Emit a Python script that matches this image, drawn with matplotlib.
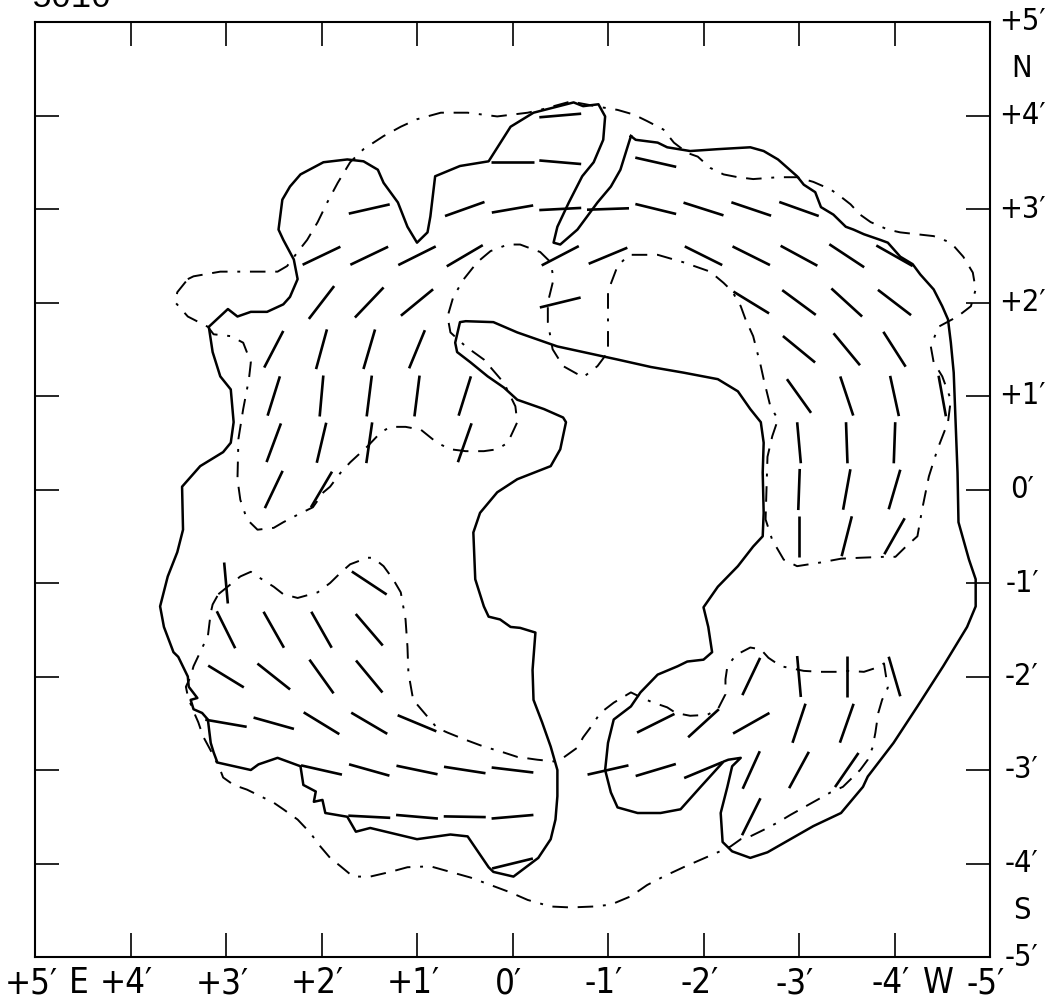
import numpy as np
import matplotlib.pyplot as plt
from matplotlib.collections import LineCollection
from matplotlib.transforms import offset_copy


# offsets in arcmin from the map centre, east positive (plotted to the left)

# polarization vectors: position, position angle (deg, N through E)
vec_ra = [
    -0.5,
    0.0, -0.5, -1.5,
    1.5, 0.5, 0.0, -0.5, -1.0, -1.5, -2.0, -2.5, -3.0,
    2.0, 1.5, 1.0, 0.5, -0.5, -1.0, -2.0, -2.5, -3.0, -3.5, -4.0,
    2.0, 1.5, 1.0, -0.5, -2.5, -3.0, -3.5, -4.0,
    2.5, 2.0, 1.5, 1.0, -3.0, -3.5, -4.0,
    2.5, 2.0, 1.5, 1.0, 0.5, -3.0, -3.5, -4.0, -4.5,
    2.5, 2.0, 1.5, 0.5, -3.0, -3.5, -4.0,
    2.5, 2.0, -3.0, -3.5, -4.0,
    -3.0, -3.5, -4.0,
    3.0, 1.5,
    3.0, 2.5, 2.0, 1.5,
    3.0, 2.5, 2.0, 1.5, -2.5, -3.0, -3.5, -4.0,
    3.0, 2.5, 2.0, 1.5, 1.0, -1.5, -2.0, -2.5, -3.0, -3.5,
    2.0, 1.5, 1.0, 0.5, 0.0, -1.0, -1.5, -2.0, -2.5, -3.0, -3.5,
    1.5, 1.0, 0.5, 0.0, -2.5,
    0.0,
]
vec_dec = [
    4.0,
    3.5, 3.5, 3.5,
    3.0, 3.0, 3.0, 3.0, 3.0, 3.0, 3.0, 3.0, 3.0,
    2.5, 2.5, 2.5, 2.5, 2.5, 2.5, 2.5, 2.5, 2.5, 2.5, 2.5,
    2.0, 2.0, 2.0, 2.0, 2.0, 2.0, 2.0, 2.0,
    1.5, 1.5, 1.5, 1.5, 1.5, 1.5, 1.5,
    1.0, 1.0, 1.0, 1.0, 1.0, 1.0, 1.0, 1.0, 1.0,
    0.5, 0.5, 0.5, 0.5, 0.5, 0.5, 0.5,
    0.0, 0.0, 0.0, 0.0, 0.0,
    -0.5, -0.5, -0.5,
    -1.0, -1.0,
    -1.5, -1.5, -1.5, -1.5,
    -2.0, -2.0, -2.0, -2.0, -2.0, -2.0, -2.0, -2.0,
    -2.5, -2.5, -2.5, -2.5, -2.5, -2.5, -2.5, -2.5, -2.5, -2.5,
    -3.0, -3.0, -3.0, -3.0, -3.0, -3.0, -3.0, -3.0, -3.0, -3.0, -3.0,
    -3.5, -3.5, -3.5, -3.5, -3.5,
    -4.0,
]
vec_pa = [
    95,
    90, 85, 77,
    103, 110, 100, 93, 92, 76, 72, 71, 70,
    116, 116, 117, 121, 118, 113, 63, 63, 61, 56, 60,
    143, 137, 130, 104, 58, 53, 47, 52,
    153, 165, 164, 158, 50, 39, 32,
    163, 175, 173, 173, 163, 35, 18, 12, 10,
    160, 167, 172, 161, 5, 2, 178,
    155, 150, 178, 170, 164,
    0, 166, 151,
    5, 56,
    26, 29, 29, 40,
    58, 51, 35, 39, 155, 5, 0, 16,
    80, 74, 58, 59, 67, 117, 133, 120, 162, 161,
    77, 74, 78, 81, 83, 103, 107, 113, 156, 152, 146,
    87, 85, 89, 95, 154,
    104,
]
vec_len = 0.44

# edge of the mapped area
outline_pts = [
    (-1.24, 3.78), (-1.29, 3.74), (-1.52, 3.71), (-1.62, 3.66), (-1.86, 3.62),
    (-2.15, 3.64), (-2.49, 3.66), (-2.63, 3.62), (-2.78, 3.53), (-2.88, 3.44),
    (-2.98, 3.35), (-3.05, 3.26), (-3.17, 3.18), (-3.23, 3.02), (-3.36, 2.94),
    (-3.49, 2.81), (-3.57, 2.78), (-3.68, 2.73), (-3.85, 2.67), (-3.93, 2.64),
    (-4.06, 2.49), (-4.19, 2.41), (-4.27, 2.30), (-4.41, 2.14), (-4.50, 1.96),
    (-4.56, 1.82), (-4.59, 1.57), (-4.62, 1.25), (-4.64, 0.72), (-4.66, 0.18),
    (-4.67, -0.35), (-4.78, -0.75), (-4.85, -0.96), (-4.85, -1.25), (-4.76, -1.47),
    (-4.51, -1.89), (-4.24, -2.32), (-3.99, -2.71), (-3.72, -3.07), (-3.67, -3.18),
    (-3.44, -3.46), (-3.15, -3.60), (-2.91, -3.74), (-2.67, -3.88), (-2.49, -3.94),
    (-2.30, -3.87), (-2.20, -3.77), (-2.18, -3.46), (-2.25, -3.18), (-2.30, -2.96),
    (-2.39, -2.87), (-2.26, -2.89), (-2.21, -2.91), (-1.97, -3.18), (-1.76, -3.42),
    (-1.55, -3.46), (-1.31, -3.46), (-1.10, -3.40), (-1.03, -3.24), (-0.97, -3.00),
    (-1.00, -2.71), (-1.06, -2.46), (-1.24, -2.32), (-1.34, -2.17), (-1.52, -1.98),
    (-1.73, -1.89), (-1.83, -1.84), (-2.00, -1.82), (-2.09, -1.74), (-2.05, -1.47),
    (-2.00, -1.26), (-2.15, -1.04), (-2.36, -0.82), (-2.52, -0.61), (-2.62, -0.50),
    (-2.63, -0.25), (-2.62, 0.18), (-2.63, 0.50), (-2.60, 0.72), (-2.49, 0.86),
    (-2.36, 1.05), (-2.15, 1.18), (-1.79, 1.25), (-1.45, 1.31), (-1.10, 1.39),
    (-0.74, 1.47), (-0.47, 1.53), (-0.05, 1.68), (0.20, 1.79), (0.49, 1.80),
    (0.55, 1.79), (0.60, 1.57), (0.58, 1.47), (0.44, 1.36), (0.26, 1.21),
    (0.09, 1.09), (-0.05, 0.96), (-0.33, 0.86), (-0.53, 0.77), (-0.56, 0.72),
    (-0.50, 0.43), (-0.40, 0.25), (-0.05, 0.11), (0.16, -0.03), (0.34, -0.25),
    (0.41, -0.46), (0.39, -0.96), (0.30, -1.25), (0.25, -1.36), (0.13, -1.39),
    (0.02, -1.47), (-0.08, -1.48), (-0.24, -1.53), (-0.21, -1.93), (-0.22, -2.25),
    (-0.31, -2.49), (-0.40, -2.75), (-0.47, -3.00), (-0.47, -3.28), (-0.45, -3.53),
    (-0.40, -3.74), (-0.27, -3.94), (-0.01, -4.14), (0.20, -4.09), (0.25, -4.04),
    (0.47, -3.71), (0.65, -3.69), (1.00, -3.74), (1.49, -3.62), (1.64, -3.66),
    (1.73, -3.50), (1.96, -3.46), (1.99, -3.32), (2.08, -3.34), (2.06, -3.23),
    (2.19, -3.16), (2.22, -2.96), (2.46, -2.87), (2.66, -2.94), (2.74, -3.00),
    (3.09, -2.92), (3.13, -2.81), (3.16, -2.71), (3.19, -2.46), (3.25, -2.39),
    (3.34, -2.35), (3.37, -2.25), (3.30, -2.23), (3.39, -2.11), (3.40, -2.00),
    (3.50, -1.79), (3.55, -1.74), (3.65, -1.47), (3.69, -1.25), (3.61, -0.93),
    (3.51, -0.67), (3.45, -0.43), (3.46, 0.03), (3.27, 0.25), (3.03, 0.40),
    (2.95, 0.50), (2.92, 0.72), (2.95, 1.07), (3.06, 1.21), (3.14, 1.47),
    (3.18, 1.74), (2.98, 1.93), (2.88, 1.85), (2.74, 1.90), (2.57, 1.90),
    (2.40, 1.98), (2.33, 2.06), (2.25, 2.25), (2.29, 2.46), (2.40, 2.67),
    (2.45, 2.78), (2.41, 3.10), (2.33, 3.24), (2.22, 3.37), (1.98, 3.50),
    (1.73, 3.53), (1.56, 3.51), (1.41, 3.42), (1.35, 3.28), (1.20, 3.07),
    (1.10, 2.81), (1.00, 2.64), (0.89, 2.75), (0.86, 2.92), (0.81, 3.35),
    (0.55, 3.46), (0.25, 3.51), (0.02, 3.88), (-0.22, 4.03), (-0.64, 4.14),
    (-0.74, 4.10), (-0.90, 4.12), (-0.97, 3.99), (-0.95, 3.74), (-0.85, 3.50),
    (-0.73, 3.35), (-0.59, 3.07), (-0.47, 2.81), (-0.43, 2.64), (-0.50, 2.62),
    (-0.68, 2.78), (-0.89, 3.07), (-1.03, 3.24), (-1.13, 3.42), (-1.24, 3.78),
]

# intensity contour over the northern half
contour_north = [
    (3.40, 2.25), (3.34, 2.28), (3.06, 2.33), (2.78, 2.33), (2.46, 2.33),
    (2.36, 2.39), (2.25, 2.54), (2.15, 2.67), (2.04, 2.86), (1.94, 3.07),
    (1.83, 3.28), (1.70, 3.50), (1.56, 3.64), (1.35, 3.78), (1.17, 3.88),
    (1.00, 3.96), (0.75, 4.03), (0.47, 4.03), (0.16, 3.99), (-0.16, 4.03),
    (-0.29, 4.06), (-0.61, 4.15), (-0.92, 4.09), (-1.10, 4.06), (-1.27, 4.01),
    (-1.41, 3.94), (-1.58, 3.85), (-1.69, 3.71), (-1.83, 3.60), (-1.94, 3.56),
    (-2.07, 3.44), (-2.21, 3.37), (-2.36, 3.34), (-2.52, 3.32), (-2.78, 3.34),
    (-2.98, 3.34), (-3.15, 3.29), (-3.33, 3.21), (-3.44, 3.13), (-3.54, 3.05),
    (-3.64, 2.94), (-3.75, 2.86), (-3.93, 2.78), (-4.06, 2.75), (-4.24, 2.73),
    (-4.41, 2.71), (-4.59, 2.64), (-4.72, 2.49), (-4.82, 2.32), (-4.85, 2.14),
    (-4.80, 1.96), (-4.66, 1.85), (-4.46, 1.74), (-4.38, 1.53), (-4.41, 1.36),
    (-4.50, 1.21), (-4.59, 0.96), (-4.56, 0.72), (-4.45, 0.43), (-4.36, 0.14),
    (-4.29, -0.21), (-4.24, -0.50), (-4.12, -0.61), (-4.01, -0.72), (-3.89, -0.72),
    (-3.64, -0.73), (-3.44, -0.74), (-3.23, -0.78), (-2.98, -0.82), (-2.84, -0.75),
    (-2.72, -0.54), (-2.65, -0.32), (-2.67, 0.35), (-2.72, 0.57), (-2.78, 0.75),
    (-2.70, 0.89), (-2.63, 1.18), (-2.60, 1.32), (-2.52, 1.64), (-2.44, 1.82),
    (-2.39, 1.96), (-2.30, 2.12), (-2.21, 2.21), (-2.07, 2.33), (-1.79, 2.43),
    (-1.52, 2.51), (-1.22, 2.51), (-1.10, 2.39), (-1.00, 2.12), (-1.00, 1.47),
    (-0.89, 1.32), (-0.74, 1.20), (-0.53, 1.32), (-0.42, 1.50), (-0.37, 1.79),
    (-0.37, 2.00), (-0.43, 2.25), (-0.40, 2.43), (-0.29, 2.54), (-0.08, 2.62),
    (0.05, 2.62), (0.23, 2.55), (0.37, 2.43), (0.51, 2.25), (0.62, 2.06),
    (0.68, 1.85), (0.65, 1.68), (0.49, 1.53), (0.30, 1.39), (0.09, 1.14),
    (-0.03, 0.89), (-0.05, 0.72), (0.05, 0.50), (0.16, 0.43), (0.30, 0.41),
    (0.49, 0.41), (0.65, 0.43), (0.79, 0.50), (0.96, 0.64), (1.12, 0.67),
    (1.28, 0.67), (1.38, 0.61), (1.52, 0.46), (1.70, 0.29), (1.80, 0.18),
    (1.91, 0.03), (1.98, -0.03), (2.09, -0.19), (2.25, -0.27), (2.40, -0.35),
    (2.50, -0.41), (2.67, -0.43), (2.78, -0.32), (2.85, -0.11), (2.88, 0.11),
    (2.87, 0.54), (2.82, 0.86), (2.76, 1.18), (2.74, 1.36), (2.82, 1.57),
    (2.95, 1.64), (3.13, 1.66), (3.19, 1.74), (3.40, 1.85), (3.53, 2.00),
    (3.51, 2.11), (3.40, 2.25),
]

# intensity contour over the southern half
contour_south = [
    (3.08, -1.12), (2.85, -0.93), (2.74, -0.88), (2.67, -0.93), (2.50, -1.04),
    (2.40, -1.12), (2.25, -1.16), (2.04, -1.10), (1.91, -1.00), (1.80, -0.89),
    (1.70, -0.80), (1.52, -0.73), (1.46, -0.73), (1.35, -0.82), (1.25, -0.96),
    (1.17, -1.10), (1.12, -1.39), (1.10, -1.68), (1.09, -1.96), (1.04, -2.25),
    (0.89, -2.43), (0.79, -2.55), (0.68, -2.60), (0.51, -2.67), (0.30, -2.75),
    (0.13, -2.80), (-0.05, -2.86), (-0.26, -2.89), (-0.45, -2.91), (-0.53, -2.87),
    (-0.68, -2.76), (-0.74, -2.65), (-0.82, -2.54), (-0.92, -2.39), (-1.06, -2.28),
    (-1.24, -2.17), (-1.32, -2.21), (-1.45, -2.27), (-1.62, -2.33), (-1.71, -2.39),
    (-1.86, -2.42), (-2.04, -2.41), (-2.15, -2.35), (-2.23, -2.19), (-2.23, -2.03),
    (-2.25, -1.89), (-2.34, -1.77), (-2.49, -1.69), (-2.60, -1.71), (-2.68, -1.80),
    (-2.81, -1.89), (-2.91, -1.91), (-3.05, -1.94), (-3.23, -1.95), (-3.40, -1.95),
    (-3.51, -1.94), (-3.68, -1.95), (-3.80, -1.91), (-3.89, -1.86), (-3.93, -2.12),
    (-3.87, -2.25), (-3.83, -2.39), (-3.80, -2.60), (-3.77, -2.76), (-3.72, -2.89),
    (-3.64, -3.00), (-3.56, -3.08), (-3.46, -3.18), (-3.33, -3.24), (-3.19, -3.32),
    (-3.05, -3.40), (-2.91, -3.48), (-2.78, -3.56), (-2.63, -3.64), (-2.49, -3.71),
    (-2.39, -3.74), (-2.28, -3.82), (-2.15, -3.88), (-1.97, -3.96), (-1.79, -4.04),
    (-1.58, -4.14), (-1.41, -4.23), (-1.24, -4.35), (-1.03, -4.44), (-0.85, -4.46),
    (-0.61, -4.47), (-0.40, -4.46), (-0.16, -4.39), (0.02, -4.31), (0.23, -4.23),
    (0.44, -4.15), (0.65, -4.09), (0.86, -4.03), (1.10, -4.04), (1.28, -4.09),
    (1.49, -4.14), (1.67, -4.14), (1.80, -4.03), (1.91, -3.94), (2.01, -3.82),
    (2.12, -3.67), (2.25, -3.53), (2.40, -3.42), (2.50, -3.35), (2.64, -3.28),
    (2.78, -3.21), (2.92, -3.16), (3.03, -3.08), (3.06, -3.00), (3.14, -2.83),
    (3.24, -2.64), (3.29, -2.49), (3.35, -2.35), (3.40, -2.21), (3.42, -2.11),
    (3.37, -2.00), (3.34, -1.89), (3.22, -1.63), (3.19, -1.57), (3.16, -1.32),
    (3.14, -1.23), (3.08, -1.12),
]

# axis annotation
bottom_pos = [5, 4.5, 4, 3, 2, 1, 0, -1, -2, -3, -4, -4.5, -5]
bottom_text = ["+5′", "E", "+4′", "+3′", "+2′", "+1′", "0′",
               "-1′", "-2′", "-3′", "-4′", "W", "-5′"]
right_pos = [5, 4.5, 4, 3, 2, 1, 0, -1, -2, -3, -4, -4.5, -5]
right_text = ["+5′", "N", "+4′", "+3′", "+2′", "+1′", "0′",
              "-1′", "-2′", "-3′", "-4′", "S", "-5′"]
tick_pos = [-4, -3, -2, -1, 0, 1, 2, 3, 4]


fig = plt.figure(figsize=(10.56, 10.07), dpi=100)

ax = fig.add_axes([35 / 1056, 50 / 1007, 955 / 1056, 935 / 1007])

ax.set_xlim(5, -5)
ax.set_ylim(-5, 5)

for side in ax.spines.values():
    side.set_linewidth(1.5)

ax.set_xticks(tick_pos)
ax.set_yticks(tick_pos)

ax.tick_params(
    direction="in",
    length=17,
    width=1.2,
    top=True,
    right=True,
    labelbottom=False,
    labelleft=False,
)

# map edge
edge = np.array(outline_pts)
ax.plot(edge[:, 0], edge[:, 1], color="black", lw=1.8, solid_joinstyle="round")

# contours: long dashes broken now and then by a dot
for pts in (contour_north, contour_south):
    c = np.array(pts)
    ax.plot(
        c[:, 0],
        c[:, 1],
        color="black",
        lw=1.4,
        linestyle=(0, (8, 5, 8, 5, 1.5, 5)),
    )

# polarization vectors
ra = np.array(vec_ra)
dec = np.array(vec_dec)
pa = np.radians(vec_pa)

dx = 0.5 * vec_len * np.sin(pa)
dy = 0.5 * vec_len * np.cos(pa)

segs = np.stack(
    [np.column_stack([ra - dx, dec - dy]), np.column_stack([ra + dx, dec + dy])],
    axis=1,
)

ax.add_collection(LineCollection(segs, colors="black", linewidths=1.9, capstyle="butt"))

# offset labels
bottom_tr = offset_copy(ax.get_xaxis_transform(), fig=fig, x=-4, y=-9, units="dots")
for x, s in zip(bottom_pos, bottom_text):
    ax.text(x, 0, s, transform=bottom_tr, ha="center", va="top",
            fontsize=25, family="DejaVu Sans", fontstretch="condensed")

right_tr = offset_copy(ax.get_yaxis_transform(), fig=fig, x=32, y=0, units="dots")
for y, s in zip(right_pos, right_text):
    ax.text(1, y, s, transform=right_tr, ha="center", va="center",
            fontsize=22, family="DejaVu Sans", fontstretch="condensed")

# map id, partly off the top edge
fig.text(32 / 1056, 1 - 7 / 1007, "5010", ha="left", va="baseline",
         fontsize=24, family=["Liberation Mono", "DejaVu Sans Mono"])

fig.savefig("out.png", dpi=100)
